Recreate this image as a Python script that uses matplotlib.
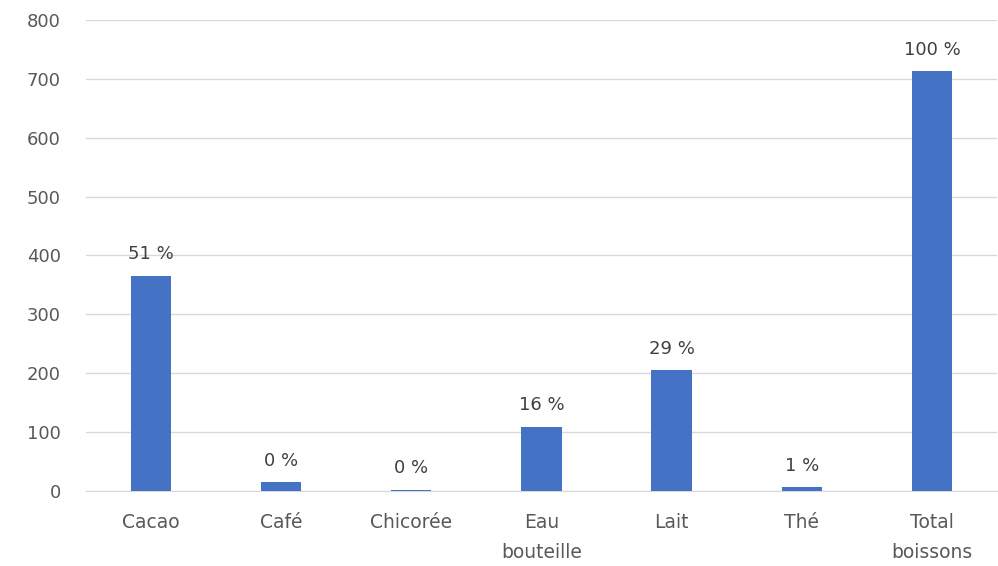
import matplotlib.pyplot as plt

categories = ["Cacao", "Café", "Chicorée", "Eau\nbouteille", "Lait", "Thé", "Total\nboissons"]
values = [366, 15, 2, 109, 205, 6, 713]
pct_labels = ["51 %", "0 %", "0 %", "16 %", "29 %", "1 %", "100 %"]

plt.rcParams['font.family'] = ['DejaVu Sans']
txt = '#595959'

fig = plt.figure(figsize=(9.98, 5.66), dpi=100)
ax = fig.add_axes([0.086, 0.1325, 0.913, 0.8322])

x = range(len(categories))
bars = ax.bar(x, values, width=0.31, color='#4472c4', zorder=3)

for b, lab in zip(bars, pct_labels):
    ax.annotate(lab, (b.get_x() + b.get_width() / 2, b.get_height()),
                xytext=(0, 9), textcoords='offset points',
                ha='center', va='bottom', fontsize=13, color='#404040')

ax.set_xlim(-0.5, len(categories) - 0.5)
ax.set_ylim(0, 800)
ax.set_yticks(range(0, 801, 100))
ax.set_xticks(list(x))
ax.set_xticklabels(categories, fontsize=13.5, color=txt, linespacing=1.75)
ax.tick_params(axis='y', labelsize=13, labelcolor=txt, length=0, pad=18)
ax.tick_params(axis='x', length=0, pad=16)
ax.yaxis.grid(True, color='#d9d9d9', linewidth=1, zorder=0)
for s in ['top', 'right', 'left']:
    ax.spines[s].set_visible(False)
ax.spines['bottom'].set_color('#d9d9d9')

fig.savefig('out.png', dpi=100)
